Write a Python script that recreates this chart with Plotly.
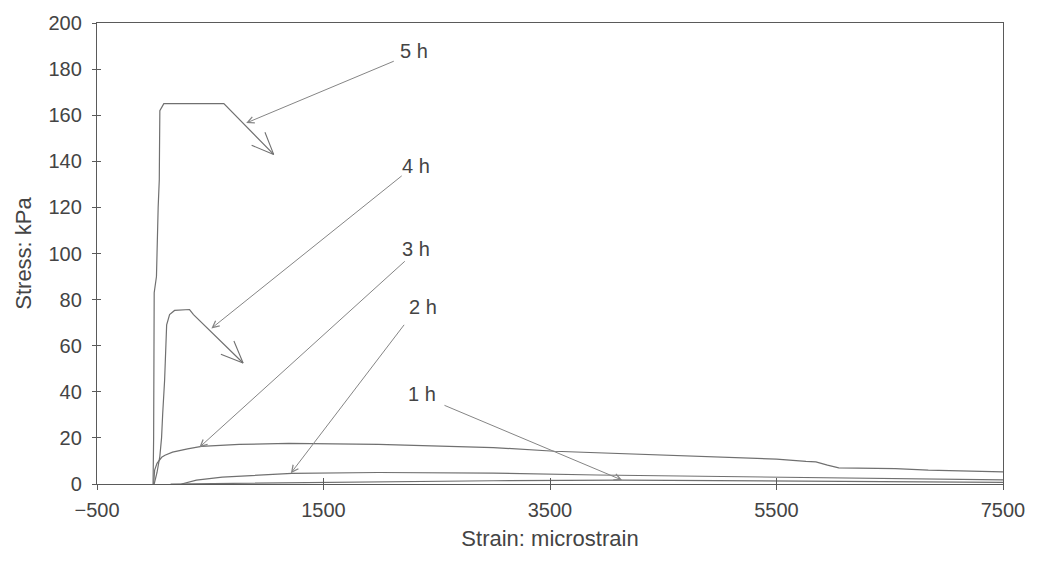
import math
import plotly.graph_objects as go

# ---- data ----
strain_5h = [-5, 0, 5, 25, 40, 50, 52, 55, 90, 620, 1060]
stress_5h = [0, 20, 83, 90, 120, 132, 145, 162, 165, 165, 143]

strain_4h = [5, 30, 55, 70, 80, 97, 115, 141, 185, 317, 352, 790]
stress_4h = [0, 5, 12, 20, 30.5, 45, 69, 73.5, 75.3, 75.7, 73.5, 52.5]

strain_3h = [0, 5, 9, 30, 50, 71, 100, 167, 300, 422, 756, 1195, 1985, 3000, 3540,
             3917, 4800, 5500, 5760, 5848, 5950, 6050, 6550, 6840, 7500]
stress_3h = [0, 3, 6, 9, 10.5, 11.6, 12.5, 13.8, 15.2, 16.3, 17.2, 17.6, 17.2, 15.8, 14.2,
             13.5, 12, 10.8, 9.8, 9.6, 8.2, 7.0, 6.7, 6.0, 5.3]

strain_2h = [246, 378, 606, 905, 1221, 1985, 3000, 3917, 5000, 6000, 7500]
stress_2h = [0, 1.7, 3.0, 3.9, 4.6, 5.0, 4.7, 3.9, 3.2, 2.5, 1.8]

strain_1h = [150, 500, 1000, 2000, 3000, 4136, 5000, 6000, 7500]
stress_1h = [0, 0.2, 0.5, 1.0, 1.4, 1.7, 1.4, 1.1, 0.7]

x_ticks = [-500, 1500, 3500, 5500, 7500]
y_ticks = [0, 20, 40, 60, 80, 100, 120, 140, 160, 180, 200]

# labels: (text, label x, label y, arrow tail x, tail y, arrow head x, head y)
labels = [
    ("5 h", 2301, 188, 2134, 183.7, 817, 156.6),
    ("4 h", 2318, 138, 2204, 134.2, 510, 67.5),
    ("3 h", 2318, 102, 2231, 97.2, 404, 15.9),
    ("2 h", 2380, 76.6, 2222, 69.7, 1212, 4.7),
    ("1 h", 2371, 39, 2555, 34.4, 4136, 1.7),
]

CURVE = "#707070"
ARROW = "#858585"
TEXT = "#444444"
AXIS = "#5a5a5a"
FONT = "Liberation Sans, Arial, sans-serif"

W, H = 1037, 561
ML, MR, MT, MB = 97, 29, 19, 77
XR = [-500, 7500]
YR = [0, 200]
kx = (W - ML - MR) / (XR[1] - XR[0])   # px per strain unit
ky = (H - MT - MB) / (YR[1] - YR[0])   # px per stress unit

fig = go.Figure()
for xs, ys in [(strain_5h, stress_5h), (strain_4h, stress_4h), (strain_3h, stress_3h),
               (strain_2h, stress_2h), (strain_1h, stress_1h)]:
    fig.add_trace(go.Scatter(x=xs, y=ys, mode="lines",
                             line=dict(color=CURVE, width=1.2), showlegend=False,
                             hoverinfo="skip"))


def barbs(xs, ys, length=24, spread=23):
    """open arrowhead at the end of a curve, computed from its last segment"""
    ex, ey = xs[-1], ys[-1]
    dx = (ex - xs[-2]) * kx
    dy = (ey - ys[-2]) * ky
    n = math.hypot(dx, dy)
    ux, uy = -dx / n, -dy / n
    pts_x, pts_y = [], []
    for sgn in (1, -1):
        a = math.radians(spread * sgn)
        bx = ux * math.cos(a) - uy * math.sin(a)
        by = ux * math.sin(a) + uy * math.cos(a)
        pts_x.append(ex + bx * length / kx)
        pts_y.append(ey + by * length / ky)
    return [pts_x[0], ex, pts_x[1]], [pts_y[0], ey, pts_y[1]]


for xs, ys in [(strain_5h, stress_5h), (strain_4h, stress_4h)]:
    bx, by = barbs(xs, ys)
    fig.add_trace(go.Scatter(x=bx, y=by, mode="lines",
                             line=dict(color=CURVE, width=1.1), showlegend=False,
                             hoverinfo="skip"))

# invisible trace for the duplicated (inside-tick) axes
fig.add_trace(go.Scatter(x=[x_ticks[0]], y=[y_ticks[0]], xaxis="x2", yaxis="y2",
                         mode="markers", marker=dict(opacity=0), showlegend=False,
                         hoverinfo="skip"))

annotations = []
for text, lx, ly, tx, ty, hx, hy in labels:
    annotations.append(dict(x=lx, y=ly, text=text, showarrow=False,
                            font=dict(family=FONT, size=20, color=TEXT),
                            xanchor="center", yanchor="middle"))
    annotations.append(dict(x=hx, y=hy, ax=tx, ay=ty, axref="x", ayref="y",
                            xref="x", yref="y", text="", showarrow=True,
                            arrowhead=5, arrowsize=1.3, arrowwidth=1,
                            arrowcolor=ARROW))

axis_common = dict(showgrid=False, zeroline=False, linecolor=AXIS, linewidth=1.3,
                   tickcolor=AXIS, tickwidth=1.2)

fig.update_layout(
    width=W, height=H,
    margin=dict(l=ML, r=MR, t=MT, b=MB),
    paper_bgcolor="white", plot_bgcolor="white",
    font=dict(family=FONT, size=20, color=TEXT),
    xaxis=dict(range=XR, tickvals=x_ticks, ticks="outside", ticklen=5,
               mirror=True, showline=True, tickfont=dict(size=20),
               ticklabelstandoff=3,
               title=dict(text="Strain: microstrain", font=dict(size=22), standoff=10),
               **axis_common),
    yaxis=dict(range=YR, tickvals=y_ticks, ticks="outside", ticklen=4,
               mirror=True, showline=True, tickfont=dict(size=20),
               ticklabelstandoff=6,
               title=dict(text="Stress: kPa", font=dict(size=22), standoff=10),
               **axis_common),
    xaxis2=dict(range=XR, tickvals=x_ticks, ticks="inside", ticklen=6,
                overlaying="x", showticklabels=False, showline=False,
                showgrid=False, zeroline=False, tickcolor=AXIS, tickwidth=1.2),
    yaxis2=dict(range=YR, tickvals=y_ticks, ticks="inside", ticklen=4,
                overlaying="y", showticklabels=False, showline=False,
                showgrid=False, zeroline=False, tickcolor=AXIS, tickwidth=1.2),
    annotations=annotations,
)

fig.write_html("out.html")
